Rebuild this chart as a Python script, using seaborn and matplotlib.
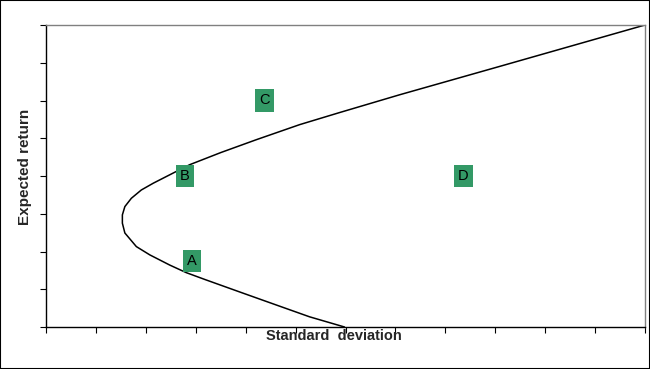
import matplotlib
matplotlib.use("Agg")
import matplotlib.pyplot as plt
import matplotlib.patches as patches
import seaborn as sns
import pandas as pd

# frontier (std deviation, expected return)
std_dev = [5.98, 5.28, 4.62, 3.94, 3.18, 2.81, 2.48, 2.08, 1.81, 1.58, 1.53,
           1.53, 1.58, 1.71, 1.91, 2.15, 2.58, 2.88, 3.50, 4.21, 5.08, 5.88,
           7.08, 9.08, 12.0]
exp_ret = [0.0, 0.27, 0.58, 0.90, 1.26, 1.44, 1.64, 1.91, 2.13, 2.49, 2.75,
           2.97, 3.19, 3.41, 3.63, 3.81, 4.10, 4.30, 4.62, 4.96, 5.36, 5.68,
           6.15, 6.90, 8.0]

# labelled portfolios
point_names = ["A", "B", "C", "D"]
point_sd = [2.92, 2.78, 4.38, 8.36]
point_ret = [1.75, 4.0, 6.0, 4.0]

x_ticks = list(range(13))
y_ticks = list(range(9))

sns.set_style("white")
plt.rcParams['font.family'] = ['Liberation Sans', 'DejaVu Sans']

fig = plt.figure(figsize=(6.5, 3.69), dpi=100)
ax = fig.add_axes([46 / 650, 1 - 327 / 369, 599 / 650, 302 / 369])

frontier = pd.DataFrame({"sd": std_dev, "ret": exp_ret})
sns.lineplot(data=frontier, x="sd", y="ret", sort=False, estimator=None,
             color="black", linewidth=1.1, ax=ax)

for name, sx, sy in zip(point_names, point_sd, point_ret):
    ax.text(sx, sy, name, ha="center", va="center", fontsize=10.5, color="black",
            bbox=dict(boxstyle="square,pad=0.3", fc="#339966", ec="none"))

ax.set_xlim(0, 12)
ax.set_ylim(0, 8)
ax.set_xticks(x_ticks)
ax.set_yticks(y_ticks)
ax.set_xticklabels([])
ax.set_yticklabels([])
ax.tick_params(direction="out", length=4.5, width=0.8, color="black",
               bottom=True, left=True)

for side in ["left", "bottom"]:
    ax.spines[side].set_color("black")
    ax.spines[side].set_linewidth(1.0)
for side in ["top", "right"]:
    ax.spines[side].set_color("#808080")
    ax.spines[side].set_linewidth(1.0)

ax.set_xlabel("Standard  deviation", fontsize=10.5, fontweight="bold")
ax.set_ylabel("Expected return", fontsize=11, fontweight="bold")
ax.xaxis.set_label_coords(0.481, -0.008)
ax.yaxis.set_label_coords(-0.023, 0.53)

fig.patches.append(patches.Rectangle((0, 0), 1, 1, transform=fig.transFigure,
                                     fill=False, edgecolor="black", linewidth=1.5))

fig.savefig("out.png", dpi=100)
